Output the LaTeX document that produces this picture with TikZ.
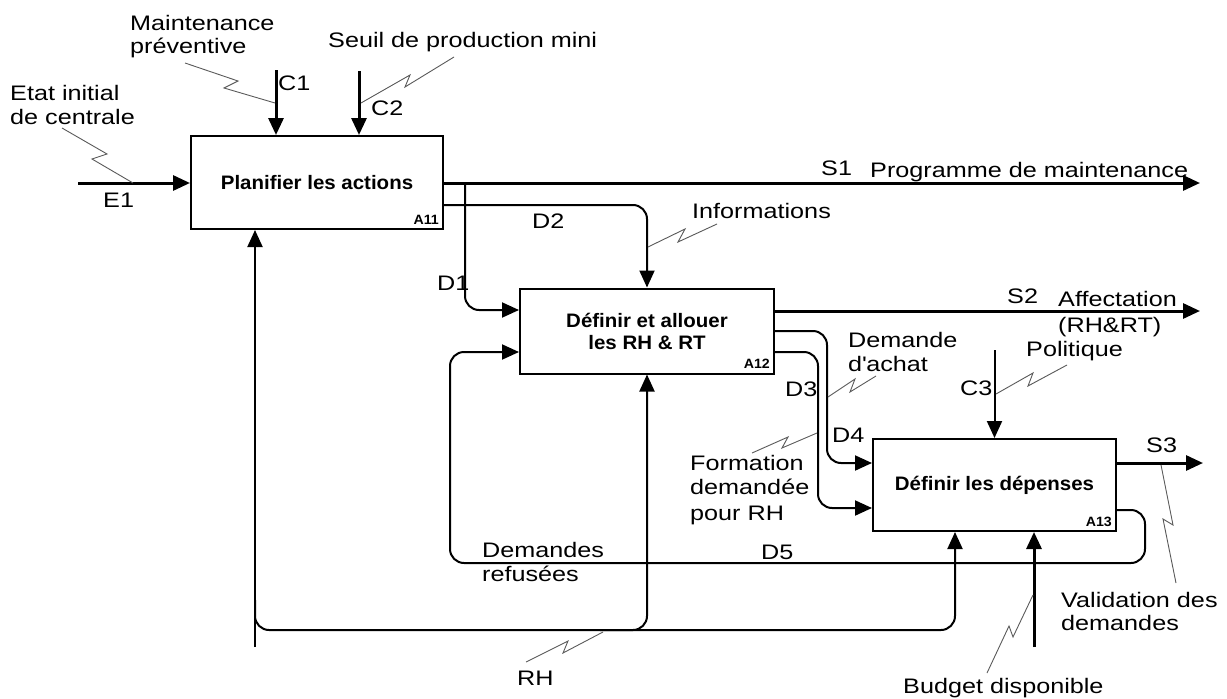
\documentclass[tikz,border=0pt]{standalone}
\usepackage{fontspec}
\setmainfont{Liberation Sans}[FakeStretch=1.2]
\newfontfamily\boxfont{Liberation Sans}[FakeStretch=1.05]
\usetikzlibrary{arrows.meta}
\begin{document}
\begin{tikzpicture}[x=1pt,y=-1pt,
  box/.style={draw, line width=2pt, inner sep=0pt, align=center,
    font=\boxfont\fontsize{19.5}{22}\selectfont\bfseries},
  idx/.style={anchor=base east, inner sep=0pt, font=\boxfont\fontsize{13.5}{15}\selectfont\bfseries},
  lbl/.style={anchor=base west, inner sep=0pt, font=\fontsize{21}{25}\selectfont},
  arr/.style={line width=2pt, -{Triangle[length=17pt,width=15pt]}, rounded corners=14pt},
  thk/.style={arr, line width=3pt},
  sq/.style={line width=0.9pt, black!65}]
\useasboundingbox (0,0) rectangle (1227,699);
% boxes
\node[box, minimum width=252pt, minimum height=93pt] (A11) at (317,182.5) {Planifier les actions};
\node[box, minimum width=254pt, minimum height=85pt] (A12) at (647,331) {D\'efinir et allouer\\les RH \& RT};
\node[box, minimum width=243pt, minimum height=92pt] (A13) at (994.5,485) {D\'efinir les d\'epenses};
\node[idx] (iA11) at ([xshift=-5pt,yshift=6pt]A11.south east) {A11};
\node[idx] (iA12) at ([xshift=-5pt,yshift=6pt]A12.south east) {A12};
\node[idx] (iA13) at ([xshift=-5pt,yshift=6pt]A13.south east) {A13};
% coordinates
\coordinate (e1) at (78,183);
\coordinate (c1) at (276,70);
\coordinate (c2) at (359,71);
\coordinate (s1) at (1200,183);
\coordinate (d2) at (647,205);
\coordinate (d1) at (465,310);
\coordinate (s2) at (1200,311);
\coordinate (d4a) at (827,331);
\coordinate (d4b) at (827,463);
\coordinate (d3a) at (818,352);
\coordinate (d3b) at (818,508);
\coordinate (c3) at (994.5,350);
\coordinate (s3) at (1203,463);
\coordinate (d5a) at (1145,510);
\coordinate (d5b) at (1145,563);
\coordinate (d5c) at (450,563);
\coordinate (d5d) at (450,352);
\coordinate (rh0) at (255,647);
\coordinate (rha) at (255,600);
\coordinate (rhb) at (255,630);
\coordinate (rhc) at (955,630);
\coordinate (rhd) at (600,630);
\coordinate (rhe) at (647,630);
\coordinate (bud) at (1034,647);
% connectors
\draw[thk] (e1) -- (e1 -| A11.west);
\draw[thk] (c1) -- (c1 |- A11.north);
\draw[thk] (c2) -- (c2 |- A11.north);
\draw[thk] (s1 -| A11.east) -- (s1);
\draw[arr] (d2 -| A11.east) -| (A12.north);
\draw[arr] (d1 |- s1) |- (d1 -| A12.west);
\draw[thk] (s2 -| A12.east) -- (s2);
\draw[arr] (d4a -| A12.east) -- (d4a) -- (d4b) -- (d4b -| A13.west);
\draw[arr] (d3a -| A12.east) -- (d3a) -- (d3b) -- (d3b -| A13.west);
\draw[arr] (c3) -- (c3 |- A13.north);
\draw[thk] (s3 -| A13.east) -- (s3);
\draw[arr] (d5a -| A13.east) -- (d5a) -- (d5b) -- (d5c) -- (d5d) -- (d5d -| A12.west);
\draw[arr] (rh0) -- (rh0 |- A11.south);
\draw[arr] (rha) -- (rhb) -- (rhc) -- (rhc |- A13.south);
\draw[arr] (rhd) -- (rhe) -- (rhe |- A12.south);
\draw[thk] (bud) -- (bud |- A13.south);
% squiggles
\draw[sq] (62,128) -- (107,154) -- (92,159) -- (133,183);
\draw[sq] (185,63) -- (238,81) -- (224,88) -- (275,103);
\draw[sq] (454,57) -- (405,87) -- (410,75) -- (361,103);
\draw[sq] (717,224) -- (678,242) -- (685,229) -- (648,247);
\draw[sq] (876,376) -- (850,392) -- (855,379) -- (828,397);
\draw[sq] (1067,365) -- (1028,386) -- (1033,373) -- (996,394);
\draw[sq] (817,433) -- (782,448) -- (788,437) -- (752,453);
\draw[sq] (1161,465) -- (1173,525) -- (1163,519) -- (1176,583);
\draw[sq] (1033,595) -- (1013,637) -- (1009,626) -- (987,673);
\draw[sq] (603,632) -- (563,653) -- (568,641) -- (526,662);
% labels
\node[lbl] (t1a) at (10,100) {Etat initial};
\node[lbl] (t1b) at (10,124) {de centrale};
\node[lbl] (t2a) at (130,30) {Maintenance};
\node[lbl] (t2b) at (130,53) {pr\'eventive};
\node[lbl] (t3) at (328,47) {Seuil de production mini};
\node[lbl] (lc1) at (278,90) {C1};
\node[lbl] (lc2) at (371,115) {C2};
\node[lbl] (le1) at (103,207) {E1};
\node[lbl] (ls1) at (821,175) {S1};
\node[lbl] (t4) at (870,177) {Programme de maintenance};
\node[lbl] (ld2) at (532,228) {D2};
\node[lbl] (t5) at (692,218) {Informations};
\node[lbl] (ld1) at (437,290) {D1};
\node[lbl] (ls2) at (1007,303) {S2};
\node[lbl] (t6a) at (1058,306) {Affectation};
\node[lbl] (t6b) at (1058,332) {(RH\&RT)};
\node[lbl] (t7a) at (848,347) {Demande};
\node[lbl] (t7b) at (848,371) {d\textquotesingle achat};
\node[lbl] (t8) at (1026,356) {Politique};
\node[lbl] (ld3) at (785,396) {D3};
\node[lbl] (lc3) at (960,395) {C3};
\node[lbl] (ld4) at (832,442) {D4};
\node[lbl] (ls3) at (1146,452) {S3};
\node[lbl] (t9a) at (690,470) {Formation};
\node[lbl] (t9b) at (690,494) {demand\'ee};
\node[lbl] (t9c) at (690,520) {pour RH};
\node[lbl] (ld5) at (761,559) {D5};
\node[lbl] (t10a) at (482,557) {Demandes};
\node[lbl] (t10b) at (482,581) {refus\'ees};
\node[lbl] (t11a) at (1061,607) {Validation des};
\node[lbl] (t11b) at (1061,630) {demandes};
\node[lbl] (t12) at (517,685) {RH};
\node[lbl] (t13) at (903,693) {Budget disponible};
\end{tikzpicture}
\end{document}
